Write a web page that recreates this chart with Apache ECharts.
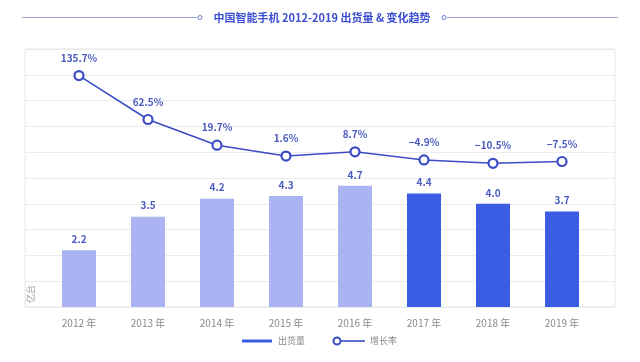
<!DOCTYPE html>
<html><head><meta charset="utf-8">
<script src="https://cdn.jsdelivr.net/npm/echarts@6/dist/echarts.min.js"></script>
<style>html,body{margin:0;padding:0;background:#fff}#c{width:640px;height:362px}</style>
</head><body><div id="c"></div>
<script>
var titleText = '中国智能手机 2012-2019 出货量 & 变化趋势';
var years = ['2012 年','2013 年','2014 年','2015 年','2016 年','2017 年','2018 年','2019 年'];
var shipments = [2.2, 3.5, 4.2, 4.3, 4.7, 4.4, 4.0, 3.7];
var growth = [135.7, 62.5, 19.7, 1.6, 8.7, -4.9, -10.5, -7.5];
var lightYears = 5;
var unitLabel = '亿台';
var legendNames = ['出货量', '增长率'];

var LIGHT = '#aab4f2', DARK = '#3a5de3', LINE = '#3b4cc4', LABEL = '#4a5ac0';
var font = '"Noto Sans CJK SC", "Noto Sans", sans-serif';

var chart = echarts.init(document.getElementById('c'));
chart.setOption({
  animation: false,
  textStyle: { fontFamily: font },
  grid: [
    { left: 25, right: 25, top: 49, bottom: 55, show: true, borderColor: '#e6e6e6', borderWidth: 1, backgroundColor: 'transparent' },
    { left: 44.5, right: 43.5, top: 49, bottom: 55 }
  ],
  xAxis: [
    { gridIndex: 0, type: 'value', show: false, min: 0, max: 1 },
    { gridIndex: 1, type: 'category', data: years,
      axisLine: { show: false }, axisTick: { show: false },
      axisLabel: { color: '#8a8a8a', fontSize: 10, margin: 11 } }
  ],
  yAxis: [
    { gridIndex: 0, type: 'value', min: 0, max: 10, interval: 1,
      axisLine: { show: false }, axisTick: { show: false }, axisLabel: { show: false },
      splitLine: { lineStyle: { color: '#ebebeb', width: 1 } } },
    { gridIndex: 1, type: 'value', min: 0, max: 10, interval: 1, show: false, splitLine: { show: false } },
    { gridIndex: 1, type: 'value', min: -250, max: 180, show: false, splitLine: { show: false } }
  ],
  series: [
    { name: legendNames[0], type: 'bar', xAxisIndex: 1, yAxisIndex: 1, barWidth: 34,
      itemStyle: { color: DARK },
      data: shipments.map(function (v, i) { return { value: v, itemStyle: { color: i < lightYears ? LIGHT : DARK } }; }),
      label: { show: true, position: 'top', distance: 6, color: LABEL, fontSize: 10, fontWeight: 'bold',
        formatter: function (p) { return p.value.toFixed(1); } } },
    { name: legendNames[1], type: 'line', xAxisIndex: 1, yAxisIndex: 2, data: growth,
      symbol: 'circle', symbolSize: 9, z: 5,
      itemStyle: { color: '#fff', borderColor: LINE, borderWidth: 2.2 },
      lineStyle: { color: LINE, width: 1.6 },
      label: { show: true, position: 'top', distance: 7, color: LABEL, fontSize: 10, fontWeight: 'bold',
        formatter: function (p) { return (p.value < 0 ? '−' : '') + Math.abs(p.value).toFixed(1) + '%'; } } }
  ],
  graphic: [
    { type: 'line', shape: { x1: 22, y1: 17.5, x2: 197, y2: 17.5 }, style: { stroke: '#9ea6e2', lineWidth: 1 } },
    { type: 'circle', shape: { cx: 200, cy: 17.5, r: 2 }, style: { fill: '#fff', stroke: '#6b77d6', lineWidth: 1 } },
    { type: 'text', x: 322, y: 17.5, style: { text: titleText, fill: '#3b4fd0', font: 'bold 11px ' + font, textAlign: 'center', textVerticalAlign: 'middle' } },
    { type: 'circle', shape: { cx: 444, cy: 17.5, r: 2 }, style: { fill: '#fff', stroke: '#6b77d6', lineWidth: 1 } },
    { type: 'line', shape: { x1: 447, y1: 17.5, x2: 618, y2: 17.5 }, style: { stroke: '#9ea6e2', lineWidth: 1 } },
    { type: 'text', x: 31, y: 294, rotation: Math.PI / 2, style: { text: unitLabel, fill: '#a0a0a0', font: '9px ' + font, textAlign: 'center', textVerticalAlign: 'middle' } },
    { type: 'rect', shape: { x: 242, y: 339.5, width: 30, height: 3 }, style: { fill: DARK } },
    { type: 'text', x: 278, y: 341, style: { text: legendNames[0], fill: '#8a8a8a', font: '9px ' + font, textVerticalAlign: 'middle' } },
    { type: 'line', shape: { x1: 336, y1: 341, x2: 365, y2: 341 }, style: { stroke: LINE, lineWidth: 1.6 } },
    { type: 'circle', shape: { cx: 337, cy: 341, r: 3.5 }, style: { fill: '#fff', stroke: LINE, lineWidth: 2 } },
    { type: 'text', x: 370, y: 341, style: { text: legendNames[1], fill: '#8a8a8a', font: '9px ' + font, textVerticalAlign: 'middle' } }
  ]
});
</script></body></html>
